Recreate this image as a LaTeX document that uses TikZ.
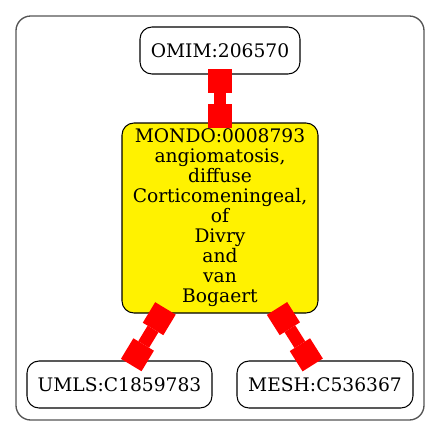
\documentclass[tikz,border=0pt]{standalone}
\usepackage{fontspec}
\setmainfont{DejaVu Serif}
\usetikzlibrary{arrows.meta}
\tikzset{
  gnode/.style={draw=black, line width=0.8pt, rounded corners=9pt, inner sep=0pt,
    align=center, font=\fontsize{14pt}{15pt}\selectfont},
  edge/.style={draw=red, line width=9.5pt,
    {Square[length=18pt,width=18pt,line width=0pt]}-{Square[length=18pt,width=18pt,line width=0pt]},
    shorten <=-4.5pt, shorten >=-4pt},
}
\begin{document}
\begin{tikzpicture}[x=0.75pt,y=-0.75pt]
\useasboundingbox (0,0) rectangle (440,436);
\draw[draw=black!67, line width=1pt, rounded corners=11pt] (16,16) rectangle (424,420);
\node[gnode, minimum width=120pt, minimum height=35.25pt] (omim) at (220,50.5) {OMIM:206570};
\node[gnode, fill=yellow, minimum width=147pt, minimum height=142.5pt] (mondo) at (220,218)
  {MONDO:0008793\\angiomatosis,\\diffuse\\Corticomeningeal,\\of\\Divry\\and\\van\\Bogaert};
\node[gnode, minimum width=138.75pt, minimum height=35.25pt] (umls) at (119.5,384.5) {UMLS:C1859783};
\node[gnode, minimum width=132pt, minimum height=35.25pt] (mesh) at (325,384.5) {MESH:C536367};
\draw[edge] (omim) -- (mondo);
\draw[edge] (mondo) -- (umls);
\draw[edge] (mondo) -- (mesh);
\end{tikzpicture}
\end{document}
